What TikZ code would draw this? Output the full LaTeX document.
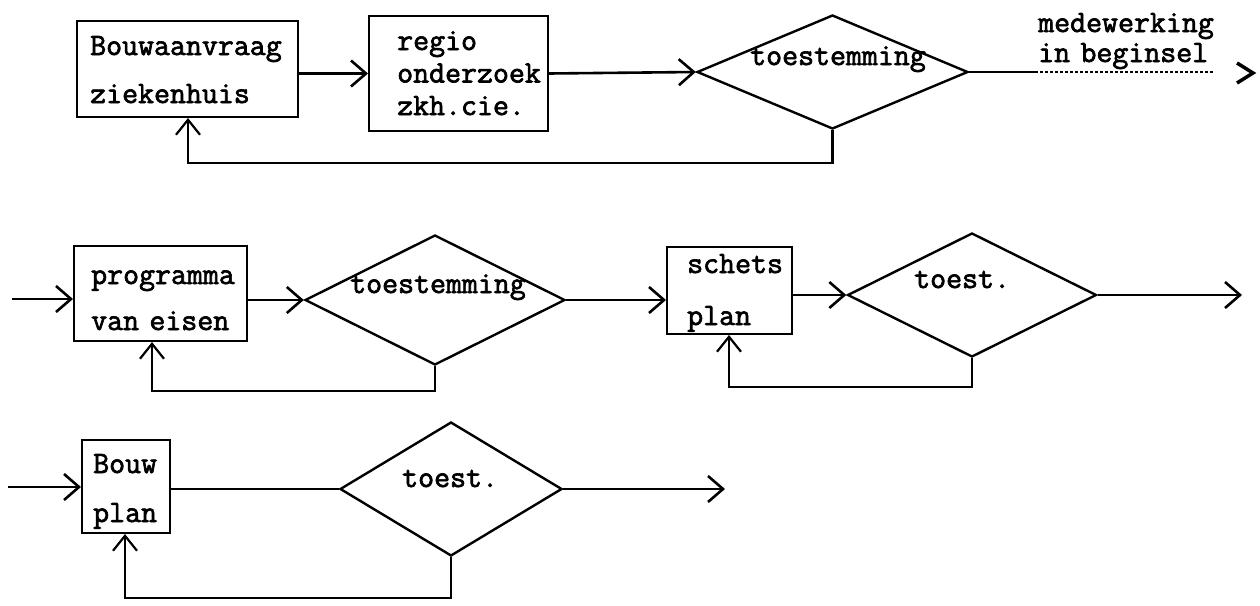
\documentclass[tikz,border=0pt]{standalone}
\usepackage{fontspec}
\newfontfamily\tw{Latin Modern Mono}[FakeBold=2.2]
\usetikzlibrary{arrows.meta,shapes.geometric}
\newcommand\twsize[1]{\fontsize{31}{#1}\selectfont}
\begin{document}
\begin{tikzpicture}[x=1pt,y=-1pt,
  box/.style={draw, line width=2pt, inner sep=0pt},
  dia/.style={draw, diamond, line width=2.4pt, inner sep=0pt},
  txt/.style={inner sep=0pt, anchor=base west, align=left, text width=220pt, font=\tw\twsize{30}},
  arr/.style={line width=2.6pt, -{Straight Barb[length=15pt,width=26pt]}},
  ln/.style={line width=2.6pt},
  fb/.style={line width=2.2pt, -{Straight Barb[length=15pt,width=24pt]}}
]
\useasboundingbox (0,0) rectangle (1260,605);

% Row 1
\node[box, minimum width=221pt, minimum height=96pt] (b1) at (187.5,69) {};
\node[txt, font=\tw\twsize{48}] (t1) at (90,55) {Bouwaanvraag\\ziekenhuis};
\node[box, minimum width=179pt, minimum height=115pt] (b2) at (458.5,73.5) {};
\node[txt, font=\tw\twsize{32.5}] (t2) at (397,50) {regio\\onderzoek\\zkh.cie.};
\node[dia, minimum width=271pt, minimum height=114pt] (d1) at (832.5,72) {};
\node[txt] (t3) at (750,65) {toestemming};
\node[txt, font=\tw\twsize{30}] (t4) at (1038,32) {medewerking\\in beginsel};

\draw[arr] (b1.east |- b2.west) -- (b2.west);
\draw[arr] (b2.east) -- (d1.west);
\coordinate (f1) at (188,163);
\draw[fb] (d1.south) |- (f1) -- (f1 |- b1.south);
\coordinate (o1a) at (1035,72);
\coordinate (o1b) at (1213,72);
\draw[ln] (d1.east) -- (o1a);
\draw[line width=1.2pt, densely dashed] (o1a) -- (o1b);
\coordinate (g1) at (1245,73);
\draw[line width=3.5pt] ([shift={(-8,-10)}]g1) -- ([shift={(8,0)}]g1) -- ([shift={(-8,10)}]g1);

% Row 2
\node[box, minimum width=173pt, minimum height=95pt] (b3) at (160.5,293.5) {};
\node[txt, font=\tw\twsize{46}] (t5) at (91,284) {programma\\van eisen};
\node[dia, minimum width=260pt, minimum height=130pt] (d2) at (435,300) {};
\node[txt] (t6) at (350,293) {toestemming};
\node[box, minimum width=125pt, minimum height=87pt] (b4) at (729.5,290.5) {};
\node[txt, font=\tw\twsize{52}] (t7) at (687,273) {schets\\plan};
\node[dia, minimum width=249pt, minimum height=124pt] (d3) at (972,295) {};
\node[txt] (t8) at (914,288) {toest.};

\coordinate (in2) at (12,299);
\draw[arr] (in2) -- (b3.west |- in2);
\draw[arr] (b3.east |- d2.west) -- (d2.west);
\coordinate (f2) at (152,391);
\draw[fb] (d2.south) |- (f2) -- (f2 |- b3.south);
\draw[arr] (d2.east) -- (b4.west |- d2.east);
\draw[arr] (b4.east |- d3.west) -- (d3.west);
\coordinate (f3) at (729,387);
\draw[fb] (d3.south) |- (f3) -- (f3 |- b4.south);
\coordinate (out3) at (1242,295);
\draw[arr] (d3.east) -- (out3);

% Row 3
\node[box, minimum width=88pt, minimum height=93pt] (b5) at (126,486.5) {};
\node[txt, font=\tw\twsize{49}] (t9) at (93,473) {Bouw\\plan};
\node[dia, minimum width=222pt, minimum height=134pt] (d4) at (451,489) {};
\node[txt] (t10) at (402,487) {toest.};

\coordinate (in3) at (8,487);
\draw[arr] (in3) -- (b5.west |- in3);
\draw[ln] (b5.east |- d4.west) -- (d4.west);
\coordinate (f4) at (125,598);
\draw[fb] (d4.south) |- (f4) -- (f4 |- b5.south);
\coordinate (out4) at (725,489);
\draw[arr] (d4.east) -- (out4);
\end{tikzpicture}
\end{document}
